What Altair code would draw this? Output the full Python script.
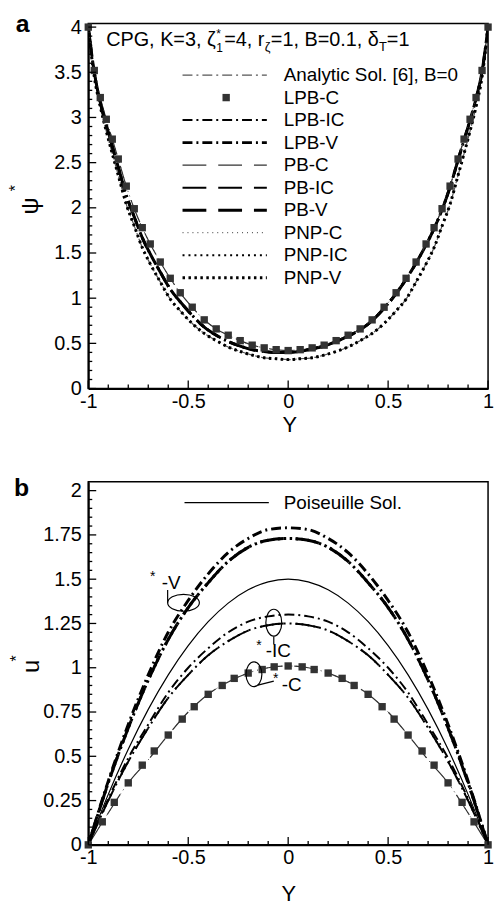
import altair as alt
import pandas as pd

FONT = "Liberation Sans"

# ---------------- panel (a): psi* vs Y ----------------
Y_TOP = [-1.00, -0.97, -0.94, -0.91, -0.88, -0.85, -0.81, -0.77, -0.73, -0.69, -0.64,
         -0.59, -0.54, -0.48, -0.42, -0.36, -0.30, -0.24, -0.18, -0.12, -0.06, 0.00,
         0.06, 0.12, 0.18, 0.24, 0.30, 0.36, 0.42, 0.48, 0.54, 0.59, 0.64, 0.69,
         0.73, 0.77, 0.81, 0.85, 0.88, 0.91, 0.94, 0.97, 1.00]
# upper curve (LPB-C squares, *-C lines)
PSI_U = [4.00, 3.52, 3.22, 2.98, 2.76, 2.54, 2.24, 1.99, 1.78, 1.60, 1.40, 1.22, 1.06,
         0.90, 0.76, 0.66, 0.59, 0.53, 0.48, 0.45, 0.43, 0.42, 0.43, 0.45, 0.48, 0.53,
         0.59, 0.66, 0.76, 0.90, 1.06, 1.22, 1.40, 1.60, 1.78, 1.99, 2.24, 2.54, 2.76,
         2.98, 3.22, 3.52, 4.00]
# middle curve (IC / V, LPB and PB)
PSI_M = [4.00, 3.50, 3.17, 2.92, 2.68, 2.45, 2.14, 1.90, 1.67, 1.49, 1.29, 1.10, 0.96,
         0.81, 0.68, 0.59, 0.52, 0.47, 0.43, 0.41, 0.40, 0.40, 0.41, 0.44, 0.47, 0.52,
         0.58, 0.65, 0.75, 0.89, 1.05, 1.21, 1.39, 1.59, 1.77, 1.98, 2.23, 2.53, 2.75,
         2.97, 3.21, 3.51, 4.00]
# lower curve (analytic, PNP-IC / PNP-V)
PSI_L = [4.00, 3.45, 3.12, 2.85, 2.60, 2.36, 2.04, 1.80, 1.56, 1.38, 1.18, 0.99, 0.86,
         0.72, 0.61, 0.53, 0.46, 0.41, 0.37, 0.34, 0.33, 0.32, 0.33, 0.34, 0.37, 0.41,
         0.46, 0.53, 0.61, 0.72, 0.86, 0.99, 1.18, 1.38, 1.56, 1.80, 2.04, 2.36, 2.60,
         2.85, 3.12, 3.45, 4.00]

TOP_NAMES = ["Analytic Sol. [6], B=0", "LPB-C", "LPB-IC", "LPB-V", "PB-C", "PB-IC",
             "PB-V", "PNP-C", "PNP-IC", "PNP-V"]
TOP_CURVE = {"Analytic Sol. [6], B=0": PSI_L, "LPB-IC": PSI_M, "LPB-V": PSI_M,
             "PB-C": PSI_U, "PB-IC": PSI_M, "PB-V": PSI_M, "PNP-C": PSI_U,
             "PNP-IC": PSI_L, "PNP-V": PSI_L}

# ---------------- panel (b): u* vs Y ----------------
Y_BOT = [-1.0, -0.9, -0.8, -0.7, -0.6, -0.5, -0.4, -0.3, -0.2, -0.1, 0.0,
         0.1, 0.2, 0.3, 0.4, 0.5, 0.6, 0.7, 0.8, 0.9, 1.0]
U_POIS = [0, 0.285, 0.54, 0.765, 0.96, 1.125, 1.26, 1.365, 1.44, 1.485, 1.50,
          1.485, 1.44, 1.365, 1.26, 1.125, 0.96, 0.765, 0.54, 0.285, 0]
U_V_HI = [0, 0.36, 0.68, 0.96, 1.20, 1.38, 1.53, 1.65, 1.73, 1.78, 1.79,
          1.78, 1.73, 1.65, 1.53, 1.38, 1.20, 0.96, 0.68, 0.36, 0]
U_V_LO = [0, 0.35, 0.66, 0.93, 1.16, 1.34, 1.48, 1.60, 1.68, 1.72, 1.73,
          1.72, 1.68, 1.60, 1.48, 1.34, 1.16, 0.93, 0.66, 0.35, 0]
U_IC_HI = [0, 0.26, 0.49, 0.68, 0.86, 1.00, 1.11, 1.20, 1.26, 1.29, 1.30,
           1.29, 1.26, 1.20, 1.11, 1.00, 0.86, 0.68, 0.49, 0.26, 0]
U_IC_LO = [0, 0.25, 0.47, 0.66, 0.83, 0.96, 1.07, 1.15, 1.21, 1.24, 1.25,
           1.24, 1.21, 1.15, 1.07, 0.96, 0.83, 0.66, 0.47, 0.25, 0]
U_C = [0, 0.18, 0.35, 0.48, 0.62, 0.75, 0.85, 0.92, 0.97, 1.00, 1.01,
       1.00, 0.97, 0.92, 0.85, 0.75, 0.62, 0.48, 0.35, 0.18, 0]
Y_SQ_BOT = [-1.0, -0.93, -0.87, -0.8, -0.73, -0.67, -0.6, -0.53, -0.47, -0.4, -0.33,
            -0.27, -0.2, -0.13, -0.07, 0.0, 0.07, 0.13, 0.2, 0.27, 0.33, 0.4, 0.47,
            0.53, 0.6, 0.67, 0.73, 0.8, 0.87, 0.93, 1.0]
U_SQ_C = [0, 0.13, 0.24, 0.35, 0.45, 0.53, 0.62, 0.71, 0.78, 0.85, 0.90, 0.94, 0.97,
          0.99, 1.005, 1.01, 1.005, 0.99, 0.97, 0.94, 0.90, 0.85, 0.78, 0.71, 0.62,
          0.53, 0.45, 0.35, 0.24, 0.13, 0]
BOT_CURVE = {"Poiseuille Sol.": U_POIS, "PB-C": U_C, "PNP-C": U_C,
             "LPB-IC": U_IC_HI, "PB-IC": U_IC_LO, "PNP-IC": U_IC_LO,
             "LPB-V": U_V_HI, "PB-V": U_V_LO, "PNP-V": U_V_LO}

# ---------------- styles ----------------
DD = [10, 4, 2, 4]
LD = [24, 12]
STYLE = {
    "Analytic Sol. [6], B=0": dict(strokeDash=DD, strokeWidth=1.2, color="#555555"),
    "LPB-IC": dict(strokeDash=DD, strokeWidth=2.0, color="black"),
    "LPB-V": dict(strokeDash=DD, strokeWidth=3.0, color="black"),
    "PB-C": dict(strokeDash=LD, strokeWidth=1.2, color="#333333"),
    "PB-IC": dict(strokeDash=LD, strokeWidth=2.0, color="black"),
    "PB-V": dict(strokeDash=LD, strokeWidth=3.0, color="black"),
    "PNP-C": dict(strokeDash=[1, 4], strokeWidth=1.0, color="#333333"),
    "PNP-IC": dict(strokeDash=[2, 4], strokeWidth=2.0, color="black"),
    "PNP-V": dict(strokeDash=[2.5, 3.5], strokeWidth=3.0, color="black"),
    "Poiseuille Sol.": dict(strokeWidth=1.2, color="black"),
}
SQ = dict(shape="square", filled=True, color="#333333", size=55, opacity=1)

W = 403
H_TOP = 368
H_BOT = 366
ONE = pd.DataFrame({"k": [0]})


def xenc(field, scale_x):
    return alt.X(field, type="quantitative", scale=scale_x, title=None,
                 axis=alt.Axis(values=[-1, -0.5, 0, 0.5, 1],
                               labelExpr="replace(format(datum.value, '.2~g'), '\u2212', '-')",
                               ticks=False, grid=False, domain=True, domainWidth=2,
                               domainColor="black", labelPadding=3, labelFontSize=20,
                               labelFont=FONT, labelColor="black", labelFlush=False,
                               labelOverlap=False))


def yenc(field, scale_y, values):
    return alt.Y(field, type="quantitative", scale=scale_y, title=None,
                 axis=alt.Axis(values=values,
                               labelExpr="format(datum.value, '.3~g')",
                               ticks=False, grid=False, domain=True, domainWidth=2,
                               domainColor="black", labelPadding=7, labelFontSize=20,
                               labelFont=FONT, labelColor="black", labelFlush=False,
                               labelOverlap=False))


def txt(x, y, s, size=19, align="left", baseline="middle", weight="normal", angle=0):
    return alt.Chart(ONE).mark_text(text=s, fontSize=size, align=align, baseline=baseline,
                                    fontWeight=weight, angle=angle, font=FONT,
                                    color="black").encode(x=alt.value(x), y=alt.value(y))


def ticks(ys, maj_x, maj_y, h, xfield_enc, yfield_enc):
    layers = []
    allx = [round(-1 + i * 0.1, 3) for i in range(21)]
    minx = [v for v in allx if v not in maj_x]
    for vals, ln in ((maj_x, 8), (minx, 4)):
        layers.append(alt.Chart(pd.DataFrame({"v": vals})).mark_rule(color="black", strokeWidth=1.3)
                      .encode(x=xfield_enc("v"), y=alt.value(h), y2=alt.value(h - ln)))
    miny = [v for v in ys if v not in maj_y]
    for vals, ln in ((maj_y, 8), (miny, 4)):
        layers.append(alt.Chart(pd.DataFrame({"v": vals})).mark_rule(color="black", strokeWidth=1.3)
                      .encode(y=yfield_enc("v"), x=alt.value(0), x2=alt.value(ln)))
    return layers


xs_top = alt.Scale(domain=[-1, 1], nice=False, zero=False)
ys_top = alt.Scale(domain=[0, 4.04], nice=False, zero=False)
ys_bot = alt.Scale(domain=[0, 2.05], nice=False, zero=False)
TOP_YV = [0, 0.5, 1, 1.5, 2, 2.5, 3, 3.5, 4]
BOT_YV = [0, 0.25, 0.5, 0.75, 1, 1.25, 1.5, 1.75, 2]

XE = lambda f: xenc(f, xs_top)
YT = lambda f: yenc(f, ys_top, TOP_YV)
YB = lambda f: yenc(f, ys_bot, BOT_YV)

# ---------------- top panel ----------------
top_layers = []
# invisible frame that fixes the page bounds
top_layers.append(alt.Chart(ONE).mark_rect(opacity=0).encode(
    x=alt.value(-88), x2=alt.value(407), y=alt.value(-19), y2=alt.value(889)))
for name in TOP_NAMES:
    if name == "LPB-C":
        continue
    df = pd.DataFrame({"Y": Y_TOP, "v": TOP_CURVE[name]})
    top_layers.append(alt.Chart(df).mark_line(interpolate="monotone", clip=True, **STYLE[name])
                      .encode(x=XE("Y"), y=YT("v")))
top_layers.append(alt.Chart(pd.DataFrame({"Y": Y_TOP, "v": PSI_U})).mark_point(**SQ)
                  .encode(x=XE("Y"), y=YT("v")))
top_minor_y = [round(i * 0.1, 3) for i in range(41)]
top_layers += ticks(top_minor_y, [-1, -0.5, 0, 0.5, 1], TOP_YV, H_TOP, XE, YT)

# legend
ROW0, DROW = 52, 22.7
for i, name in enumerate(TOP_NAMES):
    ry = ROW0 + i * DROW
    if name == "LPB-C":
        top_layers.append(alt.Chart(ONE).mark_point(**SQ).encode(x=alt.value(139), y=alt.value(ry)))
    else:
        top_layers.append(alt.Chart(ONE).mark_rule(**STYLE[name]).encode(
            x=alt.value(95), x2=alt.value(180), y=alt.value(ry)))
    top_layers.append(txt(197, ry, name, 19))

# parameter line
TB = 23
top_layers += [
    txt(18, TB, "CPG, K=3, ζ", 20, baseline="alphabetic"),
    txt(129, TB - 8, "*", 12, baseline="alphabetic"),
    txt(129, TB + 6, "1", 12, baseline="alphabetic"),
    txt(137, TB, "=4, r", 20, baseline="alphabetic"),
    txt(178, TB + 5, "ζ", 13, baseline="alphabetic"),
    txt(184, TB, "=1, B=0.1, δ", 20, baseline="alphabetic"),
    txt(293, TB + 5, "T", 13, baseline="alphabetic"),
    txt(301, TB, "=1", 20, baseline="alphabetic"),
]
# panel letter and axis titles
top_layers += [
    txt(-73, 9, "a", 25, baseline="alphabetic", weight="bold"),
    txt(-58, 184, "ψ", 24, align="center", angle=270),
    txt(-73, 166, "*", 16, align="center", angle=270),
    txt(203, 405, "Y", 22, align="center"),
]
top = alt.layer(*top_layers).properties(width=W, height=H_TOP)

# ---------------- bottom panel ----------------
bot_layers = []
for name, vals in BOT_CURVE.items():
    df = pd.DataFrame({"Y": Y_BOT, "v": vals})
    bot_layers.append(alt.Chart(df).mark_line(interpolate="monotone", clip=True, **STYLE[name])
                      .encode(x=XE("Y"), y=YB("v")))
bot_layers.append(alt.Chart(pd.DataFrame({"Y": Y_SQ_BOT, "v": U_SQ_C})).mark_point(**SQ)
                  .encode(x=XE("Y"), y=YB("v")))
bot_minor_y = [round(i * 0.05, 3) for i in range(41)]
bot_layers += ticks(bot_minor_y, [-1, -0.5, 0, 0.5, 1], BOT_YV, H_BOT, XE, YB)

# legend entry
bot_layers.append(alt.Chart(ONE).mark_rule(**STYLE["Poiseuille Sol."]).encode(
    x=alt.value(97), x2=alt.value(182), y=alt.value(21)))
bot_layers.append(txt(197, 21, "Poiseuille Sol.", 19))


# ellipse call-outs
def ellipse(cx, cy, w, h):
    r = h / w
    path = f"M -1 0 A 1 {r:.3f} 0 1 0 1 0 A 1 {r:.3f} 0 1 0 -1 0 Z"
    return alt.Chart(ONE).mark_point(shape=path, filled=False, color="black", strokeWidth=1.2,
                                     size=w * w, opacity=1).encode(x=alt.value(cx), y=alt.value(cy))


def vellipse(cx, cy, w, h):
    r = w / h
    path = f"M 0 -1 A {r:.3f} 1 0 1 0 0 1 A {r:.3f} 1 0 1 0 0 -1 Z"
    return alt.Chart(ONE).mark_point(shape=path, filled=False, color="black", strokeWidth=1.2,
                                     size=h * h, opacity=1).encode(x=alt.value(cx), y=alt.value(cy))


def seg(x1, y1, x2, y2):
    return alt.Chart(ONE).mark_rule(color="black", strokeWidth=1.2).encode(
        x=alt.value(x1), y=alt.value(y1), x2=alt.value(x2), y2=alt.value(y2))


bot_layers += [
    ellipse(96, 122, 32, 17), seg(80, 109, 80, 122),
    txt(65, 96, "*", 14, align="center"), txt(74, 102, "-V", 19),
    vellipse(187, 142, 16, 27), seg(187, 156, 187, 164),
    txt(172, 166, "*", 14, align="center"), txt(179, 171, "-IC", 19),
    vellipse(167, 194, 16, 25), seg(171, 205, 187, 201),
    txt(189, 199, "*", 14, align="center"), txt(195, 205, "-C", 19),
]
bot_layers += [
    txt(-75, 14, "b", 25, baseline="alphabetic", weight="bold"),
    txt(-57, 186, "u", 24, align="center", angle=270),
    txt(-72, 178, "*", 16, align="center", angle=270),
    txt(202, 416, "Y", 22, align="center"),
]
bottom = alt.layer(*bot_layers).properties(width=W, height=H_BOT)

chart = alt.vconcat(top, bottom, spacing=94, bounds="flush").properties(
    padding=0, background="white"
).configure_view(stroke="black", strokeWidth=1.5).configure_axis(
    labelFont=FONT
)

chart.save("out.html", embed_options={"renderer": "svg", "actions": False})
